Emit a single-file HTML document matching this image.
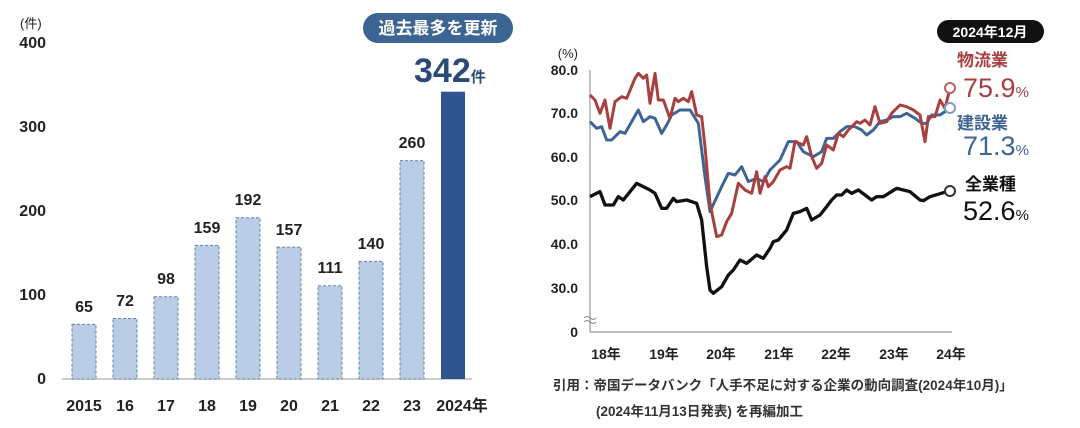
<!DOCTYPE html>
<html><head><meta charset="utf-8"><style>
html,body{margin:0;padding:0;background:#fff;}
body{width:1080px;height:423px;overflow:hidden;}
svg text{font-family:"Liberation Sans","Noto Sans CJK JP",sans-serif;}
</style></head><body>
<svg width="1080" height="423" viewBox="0 0 1080 423" xmlns="http://www.w3.org/2000/svg">
<g font-size="16" fill="#222" font-weight="bold">
<text x="20" y="28" font-size="13" font-weight="normal">(件)</text>
<text x="46" y="48" text-anchor="end">400</text>
<text x="46" y="132" text-anchor="end">300</text>
<text x="46" y="216" text-anchor="end">200</text>
<text x="46" y="300" text-anchor="end">100</text>
<text x="46" y="384" text-anchor="end">0</text>
</g>
<line x1="62" y1="379" x2="472" y2="379" stroke="#bbb" stroke-width="1.5"/>
<g fill="#b9cde6" stroke="#6a82a3" stroke-width="1" stroke-dasharray="3,2">
<rect x="72" y="324.4" width="24" height="54.6"/>
<rect x="113" y="318.5" width="24" height="60.5"/>
<rect x="154" y="296.7" width="24" height="82.3"/>
<rect x="195" y="245.4" width="24" height="133.6"/>
<rect x="236" y="217.7" width="24" height="161.3"/>
<rect x="277" y="247.1" width="24" height="131.9"/>
<rect x="318" y="285.8" width="24" height="93.2"/>
<rect x="359" y="261.4" width="24" height="117.6"/>
<rect x="400" y="160.6" width="24" height="218.4"/>
</g>
<rect x="441" y="91.7" width="24" height="287.3" fill="#2e5590"/>
<g font-size="16" fill="#222" font-weight="bold" text-anchor="middle">
<text x="84" y="312">65</text>
<text x="125" y="306">72</text>
<text x="166" y="284">98</text>
<text x="207" y="233">159</text>
<text x="248" y="205">192</text>
<text x="289" y="235">157</text>
<text x="330" y="273">111</text>
<text x="371" y="249">140</text>
<text x="412" y="148">260</text>
<text x="84" y="411">2015</text>
<text x="125" y="411">16</text>
<text x="166" y="411">17</text>
<text x="207" y="411">18</text>
<text x="248" y="411">19</text>
<text x="289" y="411">20</text>
<text x="330" y="411">21</text>
<text x="371" y="411">22</text>
<text x="412" y="411">23</text>
<text x="462" y="411">2024年</text>
</g>
<rect x="363" y="13" width="150" height="30" rx="15" fill="#3d6593"/>
<text x="438" y="34" font-size="17" fill="#fff" font-weight="bold" text-anchor="middle">過去最多を更新</text>
<text x="414" y="82" font-size="34" fill="#2b4a75" font-weight="bold">342<tspan font-size="15">件</tspan></text>

<g font-size="14" fill="#222" font-weight="bold" text-anchor="end">
<text x="578" y="58" font-size="13" font-weight="normal">(%)</text>
<text x="578" y="75">80.0</text>
<text x="578" y="118">70.0</text>
<text x="578" y="162">60.0</text>
<text x="578" y="205">50.0</text>
<text x="578" y="249">40.0</text>
<text x="578" y="293">30.0</text>
<text x="578" y="337">0</text>
</g>
<line x1="590" y1="70" x2="590" y2="332" stroke="#999" stroke-width="1.2"/>
<line x1="590" y1="332" x2="952" y2="332" stroke="#999" stroke-width="1.2"/>
<path d="M584 318 q3 -3 6 0 t6 0 M584 322 q3 -3 6 0 t6 0" stroke="#888" fill="none" stroke-width="1"/>
<g font-size="14" fill="#222" font-weight="bold" text-anchor="middle">
<text x="606" y="359">18年</text>
<text x="664" y="359">19年</text>
<text x="721" y="359">20年</text>
<text x="779" y="359">21年</text>
<text x="836" y="359">22年</text>
<text x="894" y="359">23年</text>
<text x="951" y="359">24年</text>
</g>
<g transform="translate(540,0) scale(0.33333)" fill="none" stroke-linejoin="round">
<polyline stroke="#3e6596" stroke-width="9" points="150,365 170,385 185,380 200,420 215,420 240,395 255,400 295,330 310,365 330,350 345,355 365,400 380,375 395,345 420,330 450,330 475,370 495,530 510,635 545,560 565,520 585,525 605,500 625,545 650,535 670,545 690,510 720,480 745,425 770,425 790,455 820,470 845,455 860,415 880,415 900,395 920,380 945,380 965,390 980,405 1000,390 1020,365 1040,360 1060,350 1080,350 1100,340 1125,355 1145,370 1160,370 1175,345 1200,345 1215,335 1230,325"/>
<polyline stroke="#a8403f" stroke-width="9" points="150,285 165,300 180,340 195,300 210,385 225,305 245,290 260,295 285,235 295,220 310,235 320,225 330,310 345,220 355,300 370,300 390,355 405,295 415,305 430,295 445,305 455,275 470,345 485,350 495,440 510,610 530,710 545,705 560,665 575,640 595,550 615,570 635,580 650,515 660,580 675,530 685,560 700,545 720,510 740,500 750,505 765,425 790,435 800,410 815,470 830,505 845,490 860,435 880,450 895,400 910,410 925,390 950,365 960,370 975,360 990,375 1005,320 1020,370 1040,365 1055,340 1080,315 1100,320 1120,330 1140,345 1155,425 1165,350 1185,350 1200,300 1215,325 1230,265"/>
<polyline stroke="#111" stroke-width="10" points="150,590 180,575 195,615 220,615 235,590 250,600 290,550 330,570 345,580 365,625 380,625 400,595 410,605 440,600 470,610 485,660 500,800 510,870 520,880 545,860 565,825 580,810 600,780 620,790 650,765 670,775 690,745 700,725 715,720 740,690 760,640 780,635 800,625 815,660 840,645 860,620 875,600 890,585 905,585 920,570 935,580 955,570 975,585 995,600 1010,590 1030,590 1070,565 1090,570 1110,575 1140,600 1150,602 1170,590 1230,572"/>
</g>
<circle cx="950" cy="88" r="5" fill="#fff" stroke="#c0605f" stroke-width="2"/>
<circle cx="950" cy="108" r="5" fill="#fff" stroke="#7f9cc4" stroke-width="2"/>
<circle cx="950" cy="191" r="5" fill="#fff" stroke="#333" stroke-width="2"/>
<rect x="937" y="20" width="107" height="23" rx="11.5" fill="#111"/>
<text x="990" y="37" font-size="14" font-weight="bold" fill="#fff" text-anchor="middle">2024年12月</text>
<text x="957" y="66" font-size="17" fill="#a8403f" font-weight="bold">物流業</text>
<text x="963" y="97" font-size="27" fill="#a8403f">75.9<tspan font-size="15">%</tspan></text>
<text x="957" y="129" font-size="17" fill="#3e6596" font-weight="bold">建設業</text>
<text x="963" y="155" font-size="27" fill="#3e6596">71.3<tspan font-size="15">%</tspan></text>
<text x="965" y="190" font-size="17" fill="#111" font-weight="bold">全業種</text>
<text x="963" y="220" font-size="27" fill="#111">52.6<tspan font-size="15">%</tspan></text>
<text x="553" y="390" font-size="13.5" fill="#333" font-weight="bold">引用：帝国データバンク「人手不足に対する企業の動向調査(2024年10月)」</text>
<text x="596" y="416" font-size="13.5" fill="#333" font-weight="bold">(2024年11月13日発表) を再編加工</text>
</svg>
</body></html>
